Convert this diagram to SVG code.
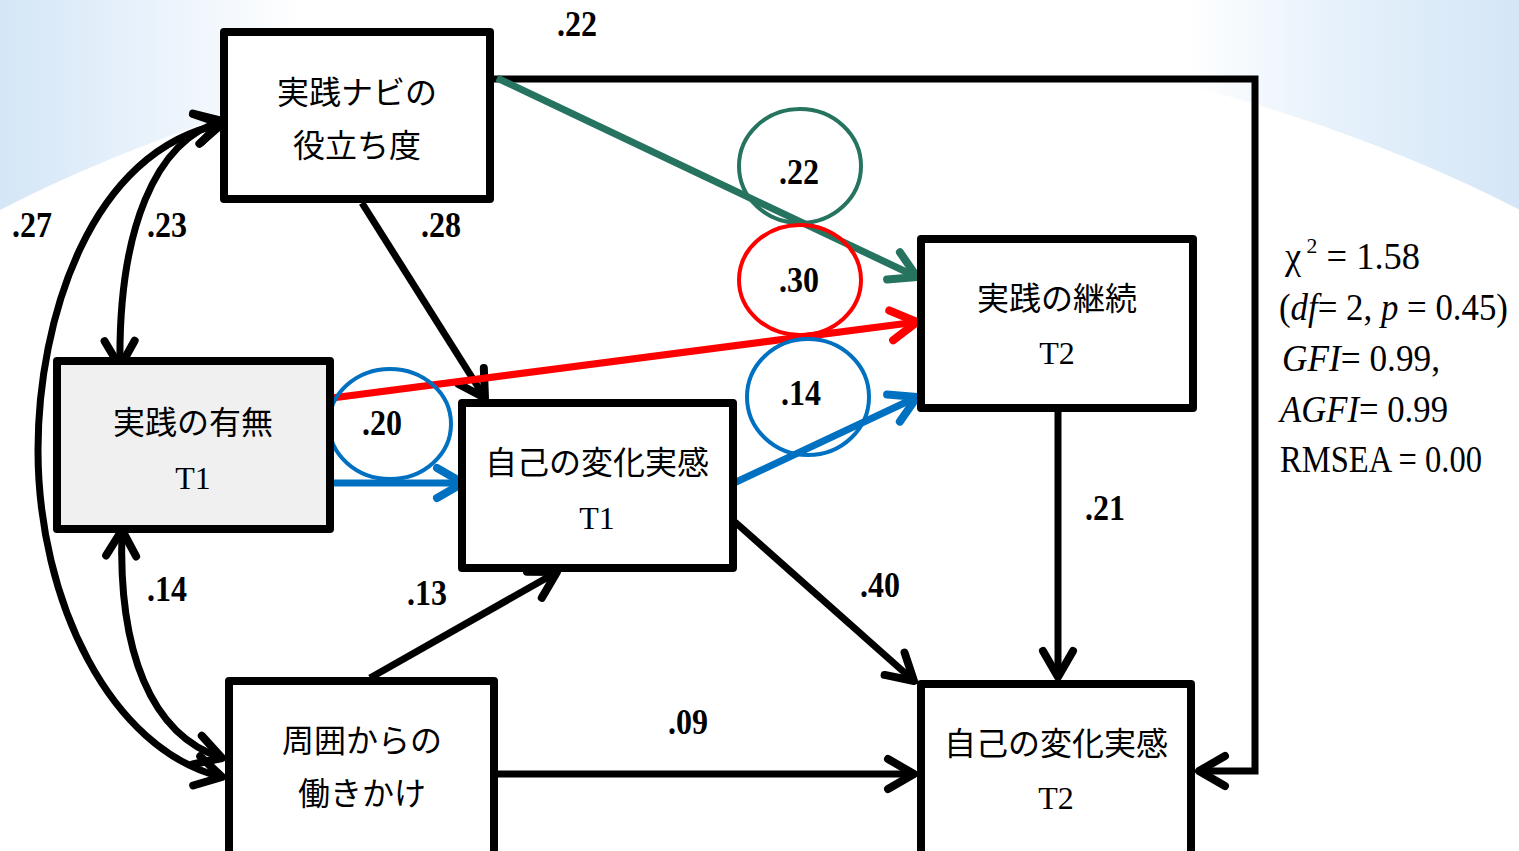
<svg xmlns="http://www.w3.org/2000/svg" width="1519" height="851" viewBox="0 0 1519 851">
<defs>
<linearGradient id="bg" x1="0" y1="0" x2="1" y2="0">
<stop offset="0" stop-color="#d4e6f7"/>
<stop offset="0.2" stop-color="#ffffff"/>
<stop offset="0.78" stop-color="#ffffff"/>
<stop offset="0.88" stop-color="#e6f1fb"/>
<stop offset="1" stop-color="#d4e6f7"/>
</linearGradient>
<marker id="ak" markerUnits="userSpaceOnUse" markerWidth="60" markerHeight="60" viewBox="-40 -30 60 60" refX="0" refY="0" orient="auto-start-reverse" overflow="visible">
<path d="M-26,-15 L0,0 L-26,15" fill="none" stroke="#000" stroke-width="8" stroke-linecap="round" stroke-linejoin="round"/>
</marker>
<marker id="ar" markerUnits="userSpaceOnUse" markerWidth="60" markerHeight="60" viewBox="-40 -30 60 60" refX="0" refY="0" orient="auto" overflow="visible">
<path d="M-26,-15 L0,0 L-26,15" fill="none" stroke="#ff0000" stroke-width="8" stroke-linecap="round" stroke-linejoin="round"/>
</marker>
<marker id="ab" markerUnits="userSpaceOnUse" markerWidth="60" markerHeight="60" viewBox="-40 -30 60 60" refX="0" refY="0" orient="auto" overflow="visible">
<path d="M-26,-15 L0,0 L-26,15" fill="none" stroke="#0070c0" stroke-width="8" stroke-linecap="round" stroke-linejoin="round"/>
</marker>
<marker id="ag" markerUnits="userSpaceOnUse" markerWidth="60" markerHeight="60" viewBox="-40 -30 60 60" refX="0" refY="0" orient="auto" overflow="visible">
<path d="M-26,-15 L0,0 L-26,15" fill="none" stroke="#267360" stroke-width="8" stroke-linecap="round" stroke-linejoin="round"/>
</marker>
</defs>
<style>
.box{fill:#ffffff;stroke:#000;stroke-width:8;stroke-linejoin:round}
.gray{fill:#f0f0f0}
.t{font-family:"Liberation Serif","Noto Sans CJK JP",serif;font-size:32px;fill:#000;text-anchor:middle}
.n{font-family:"Liberation Serif",serif;font-size:36px;font-weight:bold;fill:#000;text-anchor:middle}
.s{font-family:"Liberation Serif",serif;font-size:37px;fill:#000}
.c{fill:none;stroke:#000;stroke-width:7}
.ck{fill:none;stroke-width:4}
</style>
<rect x="0" y="0" width="1519" height="851" fill="url(#bg)"/>
<ellipse cx="760" cy="1100" rx="1378" ry="1067" fill="#ffffff"/>

<g id="connectors">
<path class="c" d="M493,79 H1255 V771 H1199" marker-end="url(#ak)"/>
<line class="c" x1="362" y1="203" x2="485" y2="398" marker-end="url(#ak)"/>
<line class="c" x1="370" y1="678" x2="557" y2="572" marker-end="url(#ak)"/>
<line class="c" x1="735" y1="522" x2="914" y2="681" marker-end="url(#ak)"/>
<line class="c" x1="497" y1="774" x2="914" y2="774" marker-end="url(#ak)"/>
<line class="c" x1="1058" y1="410" x2="1058" y2="677" marker-end="url(#ak)"/>
<path class="c" d="M120,367 C118,230 155,140 222,121" marker-start="url(#ak)" marker-end="url(#ak)"/>
<path class="c" d="M222,124 C90,150 38,320 38,450 C38,600 110,750 222,777" marker-start="url(#ak)" marker-end="url(#ak)"/>
<path class="c" d="M122,530 C118,650 150,735 222,758" marker-start="url(#ak)" marker-end="url(#ak)"/>
<line x1="497" y1="78" x2="917" y2="277" stroke="#267360" stroke-width="7" marker-end="url(#ag)"/>
<line x1="332" y1="398" x2="917" y2="322" stroke="#ff0000" stroke-width="7" marker-end="url(#ar)"/>
<line x1="332" y1="483" x2="463" y2="483" stroke="#0070c0" stroke-width="7" marker-end="url(#ab)"/>
<line x1="734" y1="483" x2="917" y2="397" stroke="#0070c0" stroke-width="7" marker-end="url(#ab)"/>
<ellipse class="ck" cx="800" cy="166" rx="61" ry="57" stroke="#267360"/>
<ellipse class="ck" cx="800" cy="280" rx="61" ry="55" stroke="#ff0000"/>
<ellipse class="ck" cx="808" cy="397" rx="61" ry="58" stroke="#0070c0"/>
<ellipse class="ck" cx="390" cy="424" rx="61" ry="55" stroke="#0070c0"/>
<text class="n" x="577" y="36" textLength="40" lengthAdjust="spacingAndGlyphs">.22</text>
<text class="n" x="32" y="237" textLength="40" lengthAdjust="spacingAndGlyphs">.27</text>
<text class="n" x="167" y="237" textLength="40" lengthAdjust="spacingAndGlyphs">.23</text>
<text class="n" x="441" y="237" textLength="40" lengthAdjust="spacingAndGlyphs">.28</text>
<text class="n" x="799" y="184" textLength="40" lengthAdjust="spacingAndGlyphs">.22</text>
<text class="n" x="799" y="292" textLength="40" lengthAdjust="spacingAndGlyphs">.30</text>
<text class="n" x="801" y="405" textLength="40" lengthAdjust="spacingAndGlyphs">.14</text>
<text class="n" x="382" y="435" textLength="40" lengthAdjust="spacingAndGlyphs">.20</text>
<text class="n" x="1105" y="520" textLength="40" lengthAdjust="spacingAndGlyphs">.21</text>
<text class="n" x="880" y="597" textLength="40" lengthAdjust="spacingAndGlyphs">.40</text>
<text class="n" x="167" y="601" textLength="40" lengthAdjust="spacingAndGlyphs">.14</text>
<text class="n" x="427" y="605" textLength="40" lengthAdjust="spacingAndGlyphs">.13</text>
<text class="n" x="688" y="734" textLength="40" lengthAdjust="spacingAndGlyphs">.09</text>
</g>

<g id="nodeA">
<rect class="box" x="224" y="32" width="266" height="167"/>
<text class="t" x="357" y="104">実践ナビの</text>
<text class="t" x="357" y="157">役立ち度</text>
</g>
<g id="nodeB">
<rect class="box gray" x="57" y="361" width="273" height="168"/>
<text class="t" x="193" y="434">実践の有無</text>
<text class="t" x="193" y="489">T1</text>
</g>
<g id="nodeC">
<rect class="box" x="462" y="403" width="271" height="165"/>
<text class="t" x="597" y="474">自己の変化実感</text>
<text class="t" x="597" y="529">T1</text>
</g>
<g id="nodeD">
<rect class="box" x="921" y="239" width="272" height="169"/>
<text class="t" x="1057" y="310">実践の継続</text>
<text class="t" x="1057" y="364">T2</text>
</g>
<g id="nodeE">
<rect class="box" x="229" y="681" width="265" height="175"/>
<text class="t" x="362" y="752">周囲からの</text>
<text class="t" x="362" y="805">働きかけ</text>
</g>
<g id="nodeF">
<rect class="box" x="921" y="684" width="270" height="172"/>
<text class="t" x="1056" y="755">自己の変化実感</text>
<text class="t" x="1056" y="809">T2</text>
</g>

<g id="fit">
<text class="s" x="1285" y="269" textLength="135" lengthAdjust="spacingAndGlyphs">χ<tspan font-size="22" dy="-16"> 2</tspan><tspan dy="16"> = 1.58</tspan></text>
<text class="s" x="1279" y="320" textLength="229" lengthAdjust="spacingAndGlyphs">(<tspan font-style="italic">df</tspan>= 2, <tspan font-style="italic">p</tspan> = 0.45)</text>
<text class="s" x="1282" y="371" textLength="158" lengthAdjust="spacingAndGlyphs"><tspan font-style="italic">GFI</tspan>= 0.99,</text>
<text class="s" x="1280" y="422" textLength="168" lengthAdjust="spacingAndGlyphs"><tspan font-style="italic">AGFI</tspan>= 0.99</text>
<text class="s" x="1280" y="472" textLength="202" lengthAdjust="spacingAndGlyphs">RMSEA = 0.00</text>
</g>
</svg>
